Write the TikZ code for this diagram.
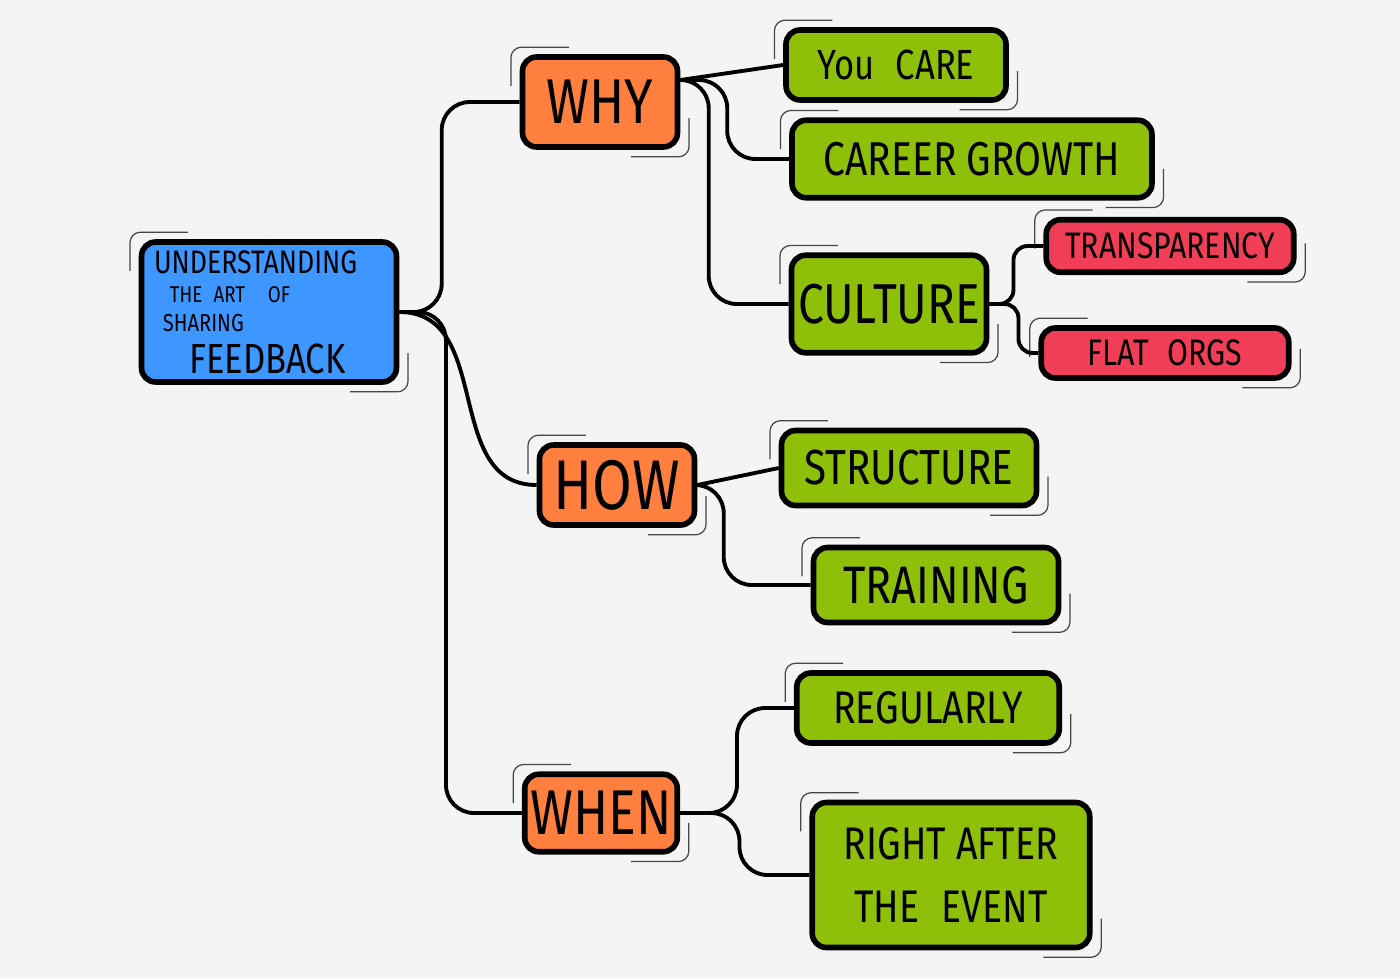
\documentclass[tikz,border=0pt]{standalone}
\usepackage{fontspec}
\usepackage{graphicx,xcolor}
\newfontfamily\handfont[FakeStretch=0.82]{Fira Sans}
\definecolor{mmblue}{RGB}{62,150,255}
\definecolor{mmorange}{RGB}{255,128,62}
\definecolor{mmgreen}{RGB}{142,192,10}
\definecolor{mmred}{RGB}{240,62,86}
\definecolor{mmpaper}{RGB}{244,244,244}
\definecolor{mmgray}{RGB}{70,70,70}
\newcommand{\handsize}[1]{\fontsize{#1}{#1}\selectfont}
\usetikzlibrary{calc}
\tikzset{
  sketchline/.style={draw=mmgray, line width=0.7pt, rounded corners=6pt},
  sketch/.style={append after command={
    ([xshift=-5pt,yshift=-18pt]\tikzlastnode.north west) edge[sketchline, to path={|- (\tikztotarget)}] ([xshift=28pt,yshift=4pt]\tikzlastnode.north west)
    ([xshift=-28pt,yshift=-4pt]\tikzlastnode.south east) edge[sketchline, to path={-| (\tikztotarget)}] ([xshift=5pt,yshift=18pt]\tikzlastnode.south east)}},
  box/.style={draw=black, line width=3.2pt, rounded corners=8pt, inner sep=2pt, sketch},
  rootbox/.style={box, fill=mmblue, minimum width=5.1cm, minimum height=2.8cm},
  askbox/.style={box, fill=mmorange},
  leafbox/.style={box, fill=mmgreen},
  subbox/.style={box, fill=mmred},
  link/.style={line width=2.2pt, rounded corners=16pt}
}

\begin{document}
\begin{tikzpicture}[x=0.02cm, y=-0.02cm]
% paper
\fill[mmpaper] (0,0) rectangle (1400,978);
\useasboundingbox (0,0) rectangle (1400,978);
% root
\node[rootbox] (root) at (269,312) {\begin{minipage}{4.6cm}\handfont\parindent=0pt\lineskiplimit=-100pt
  \handsize{18.5}UNDERSTANDING\par
  \fontsize{13}{16.5}\selectfont\hspace*{9pt}THE\enspace ART\enspace\enspace OF\par
  \fontsize{14}{16.5}\selectfont\hspace*{5pt}SHARING\par
  \fontsize{24}{24}\selectfont\hspace*{20pt}FEEDBACK\par
\end{minipage}};
% questions
\node[askbox, minimum width=3.1cm, minimum height=1.8cm, font=\handfont\handsize{36}] (why) at (600,102) {WHY};
\node[askbox, minimum width=3.1cm, minimum height=1.6cm, font=\handfont\handsize{40}] (how) at (617,485) {HOW};
\node[askbox, minimum width=3.05cm, minimum height=1.55cm, font=\handfont\handsize{36}] (when) at (601,813) {WHEN};
% answers
\node[leafbox, minimum width=4.4cm, minimum height=1.4cm, font=\handfont\handsize{24}] (care) at (896,65) {You\enspace CARE};
\node[leafbox, minimum width=7.2cm, minimum height=1.55cm, font=\handfont\handsize{27}] (career) at (972,159) {CAREER GROWTH};
\node[leafbox, minimum width=3.9cm, minimum height=1.95cm, font=\handfont\handsize{32}] (culture) at (889,304) {CULTURE};
\node[subbox, minimum width=4.95cm, minimum height=1.05cm, font=\handfont\handsize{21}] (transp) at (1170,246) {TRANSPARENCY};
\node[subbox, minimum width=4.95cm, minimum height=1.0cm, font=\handfont\handsize{21}] (flat) at (1165,353) {FLAT\enspace ORGS};
\node[leafbox, minimum width=5.1cm, minimum height=1.5cm, font=\handfont\handsize{28}] (struct) at (909,468) {STRUCTURE};
\node[leafbox, minimum width=4.9cm, minimum height=1.5cm, font=\handfont\handsize{30}] (training) at (936,585) {TRAINING};
\node[leafbox, minimum width=5.25cm, minimum height=1.4cm, font=\handfont\handsize{26}] (regular) at (928,708) {REGULARLY};
\node[leafbox, minimum width=5.55cm, minimum height=2.9cm, align=center, font=\handfont\fontsize{26}{36}\selectfont] (rightafter) at (951,875) {RIGHT AFTER\\THE\enspace EVENT};
% links from the root
\draw[link] (root.east) -| ($(why.west)+(-78,0)$) -- (why.west);
\draw[link] (root.east) to[out=0, in=180, looseness=1.1] (how.west);
\draw[link] (root.east) -| ($(when.west)+(-76,0)$) -- (when.west);
% why
\coordinate (whyout) at ([yshift=0.44cm]why.east);
\draw[link] (whyout) -- (care.west);
\draw[link] (whyout) -| ($(career.west)+(-62,0)$) -- (career.west);
\draw[link] (whyout) -| ($(culture.west)+(-80,0)$) -- (culture.west);
\draw[link, rounded corners=8pt] (culture.east) -| ($(transp.west)+(-30,0)$) -- (transp.west);
\draw[link, rounded corners=8pt] (culture.east) -| ($(flat.west)+(-20,0)$) -- (flat.west);
% how
\draw[link] (how.east) -- (struct.west);
\draw[link] (how.east) -| ($(training.west)+(-87,0)$) -- (training.west);
% when
\draw[link] (when.east) -| ($(regular.west)+(-57,0)$) -- (regular.west);
\draw[link] (when.east) -| ($(rightafter.west)+(-70,0)$) -- (rightafter.west);
\end{tikzpicture}
\end{document}
